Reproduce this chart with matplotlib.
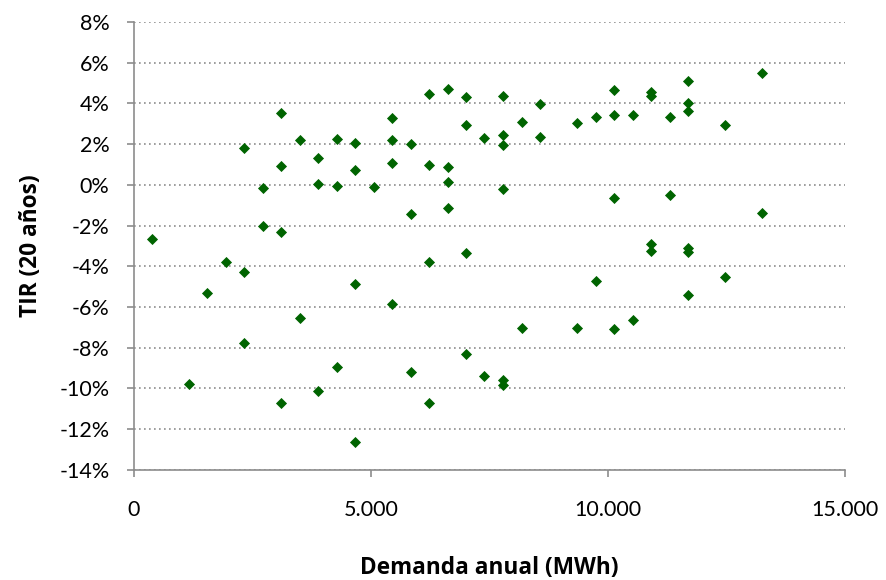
import matplotlib
matplotlib.use("Agg")
import matplotlib.pyplot as plt
from matplotlib.ticker import FuncFormatter, MultipleLocator

# Annual demand (MWh) and IRR (%)
demanda = [380, 1160, 1550, 1940, 2320, 2320, 2320, 2720, 2720,
           3110, 3110, 3110, 3110, 3500, 3500, 3890, 3890, 3890,
           4280, 4280, 4280, 4670, 4670, 4670, 4670, 5060,
           5450, 5450, 5450, 5450, 5840, 5840, 5840,
           6220, 6220, 6220, 6220, 6620, 6620, 6620, 6620,
           7010, 7010, 7010, 7010, 7390, 7390,
           7780, 7780, 7780, 7780, 7780, 7780, 8180, 8180,
           8570, 8570, 9350, 9350, 9740, 9740,
           10130, 10130, 10130, 10130, 10520, 10520,
           10900, 10900, 10900, 10900, 11310, 11310,
           11690, 11690, 11690, 11690, 11690, 11690,
           12470, 12470, 13250, 13250]
tir = [-2.68, -9.78, -5.32, -3.79, 1.81, -4.26, -7.78, -0.15, -2.02,
       3.53, 0.95, -2.31, -10.70, 2.22, -6.55, 1.32, 0.05, -10.15,
       2.25, -0.04, -8.97, 2.06, 0.72, -4.88, -12.62, -0.11,
       3.28, 2.22, 1.05, -5.86, 2.02, -1.42, -9.20,
       4.45, 0.98, -3.80, -10.74, 4.69, 0.86, 0.12, -1.12,
       4.31, 2.94, -3.33, -8.33, 2.30, -9.38,
       4.36, 2.46, 1.95, -0.19, -9.61, -9.84, 3.07, -7.03,
       3.98, 2.34, 3.05, -7.03, 3.32, -4.74,
       4.66, 3.42, -0.63, -7.07, 3.41, -6.66,
       4.58, 4.37, -2.92, -3.27, 3.33, -0.49,
       5.10, 4.01, 3.62, -3.10, -3.31, -5.41,
       2.93, -4.53, 5.48, -1.37]

x_ticks = [0, 5000, 10000, 15000]
x_labels = ["0", "5.000", "10.000", "15.000"]

plt.rcParams['font.family'] = ['Lato', 'DejaVu Sans']

fig = plt.figure(figsize=(8.86, 5.8), dpi=100)
ax = fig.add_axes([0.151, 0.190, 0.803, 0.772])

ax.scatter(demanda, tir, marker='D', s=32, color='#006400', zorder=3, linewidths=0)

ax.set_xlim(0, 15000)
ax.set_ylim(-14, 8)
ax.set_xticks(x_ticks)
ax.set_xticklabels(x_labels)
ax.yaxis.set_major_locator(MultipleLocator(2))
ax.yaxis.set_major_formatter(FuncFormatter(lambda v, p: f"{int(round(v))}%"))

ax.grid(axis='y', linestyle=(0, (1, 2)), color='#8c8c8c', linewidth=1.2, zorder=0)
ax.set_axisbelow(True)

for s in ['top', 'right']:
    ax.spines[s].set_visible(False)
for s in ['left', 'bottom']:
    ax.spines[s].set_color('#8c8c8c')
    ax.spines[s].set_linewidth(1.2)

ax.tick_params(axis='both', colors='#8c8c8c', labelcolor='black', labelsize=15.5,
               length=5, width=1.2, direction='out')
ax.tick_params(axis='x', pad=17)
ax.tick_params(axis='y', pad=12.5)

ax.set_xlabel("Demanda anual (MWh)", fontsize=16.3, fontweight='bold',
              family=['Open Sans', 'DejaVu Sans'], labelpad=26)
ax.set_ylabel("TIR (20 años)", fontsize=16.3, fontweight='bold',
              family=['Open Sans', 'DejaVu Sans'], labelpad=12)

fig.savefig("out.png", dpi=100, facecolor='white')
